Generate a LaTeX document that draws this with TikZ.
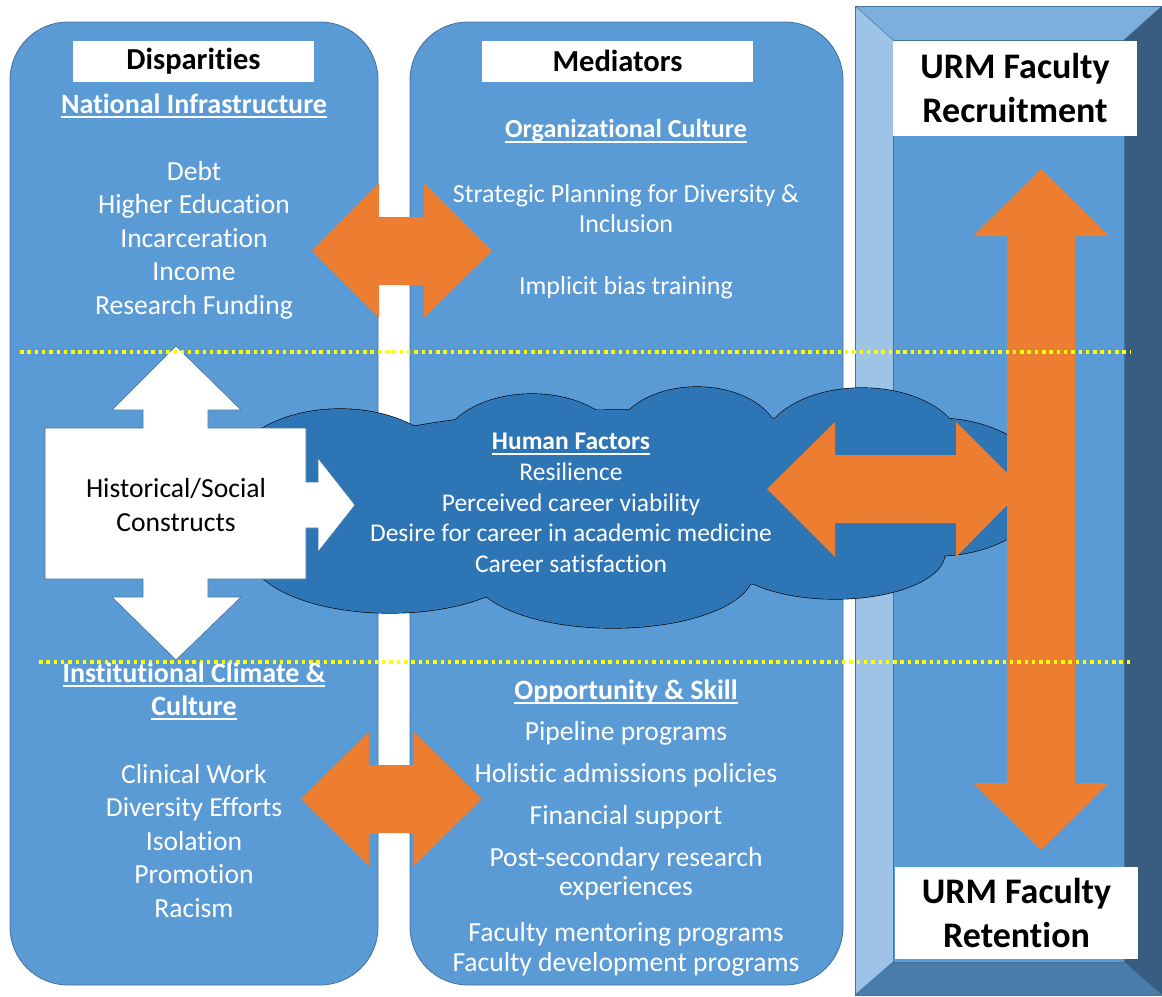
\documentclass[tikz,border=0pt]{standalone}
\usepackage{fontspec}
\setmainfont{Carlito}[Ligatures=NoCommon]
\usetikzlibrary{positioning}

\definecolor{panelblue}{HTML}{5B9BD5}
\definecolor{paneledge}{HTML}{41719C}
\definecolor{cloudblue}{HTML}{2E75B6}
\definecolor{arroworange}{HTML}{ED7D31}
\definecolor{bevtop}{HTML}{7DAFDD}
\definecolor{bevleft}{HTML}{9DC3E6}
\definecolor{bevright}{HTML}{385D80}
\definecolor{bevbottom}{HTML}{4A7CAB}
\definecolor{sepyellow}{HTML}{FFFF00}

% underlined heading with a heavier rule than \underline
\newcommand{\secline}[1]{\setbox0=\hbox{#1}\rlap{\vrule height -3pt depth 5pt width \wd0}\box0}

\tikzset{
  panel/.style={fill=panelblue, draw=paneledge, line width=0.8pt, rounded corners=58pt},
  bevel/.style={draw=paneledge, line width=0.5pt},
  bigarrow/.style={fill=arroworange},
  sepline/.style={draw=sepyellow, line width=3.5pt, dash pattern=on 3.5pt off 3.8pt},
  titlebox/.style={fill=white, inner sep=0pt, text=black, font=\fontsize{30.5}{34}\selectfont\bfseries},
  urmbox/.style={fill=white, inner sep=0pt, text=black, align=center, font=\fontsize{36}{44}\selectfont\bfseries},
  heading/.style={text=white, align=center, inner sep=0pt, font=\fontsize{28}{33}\selectfont\bfseries},
  listtext/.style={text=white, align=center, inner sep=0pt, font=\fontsize{27.6}{33.5}\selectfont},
  medtext/.style={text=white, align=center, inner sep=0pt, font=\fontsize{26}{30}\selectfont},
  cloudtext/.style={text=white, align=center, inner sep=0pt, font=\fontsize{25.5}{30.7}\selectfont},
  cloudline/.style={fill=cloudblue, draw=black, line width=1.2pt}
}

\begin{document}
\begin{tikzpicture}[x=1pt, y=-1pt]
  \useasboundingbox (0,0) rectangle (1162,996);
  \fill[white] (0,0) rectangle (1162,996);

  % the two rounded panels
  \draw[panel] (10,22) rectangle (378,985);
  \draw[panel] (410,22) rectangle (843,985);

  % bevelled frame on the right
  \fill[bevtop] (855,6) -- (1162,6) -- (1124,40) -- (893,40) -- cycle;
  \fill[bevleft] (855,6) -- (893,40) -- (893,962) -- (855,995) -- cycle;
  \fill[bevright] (1162,6) -- (1162,995) -- (1124,962) -- (1124,40) -- cycle;
  \fill[bevbottom] (855,995) -- (1162,995) -- (1124,962) -- (893,962) -- cycle;
  \fill[panelblue] (893,40) rectangle (1124,962);
  \draw[bevel] (855,6) rectangle (1162,995);
  \draw[bevel] (893,40) rectangle (1124,962);
  \draw[bevel] (855,6) -- (893,40) (1162,6) -- (1124,40)
               (855,995) -- (893,962) (1162,995) -- (1124,962);

  % cloud: outlined puffs, then filled again to hide inner edges
  \foreach \cx/\cy/\rx/\ry in {340/475/110/66, 390/553/140/60, 532/452/92/58,
      697/440/82/53, 862/448/100/60, 935/487/110/69, 613/573/140/55,
      835/553/110/46, 620/500/360/90}
    \draw[cloudline] (\cx,\cy) ellipse [x radius=\rx, y radius=\ry];
  \foreach \cx/\cy/\rx/\ry in {340/475/110/66, 390/553/140/60, 532/452/92/58,
      697/440/82/53, 862/448/100/60, 935/487/110/69, 613/573/140/55,
      835/553/110/46, 620/500/360/90}
    \fill[cloudblue] (\cx,\cy) ellipse [x radius=\rx, y radius=\ry];

  % white block arrow
  \draw[fill=white, draw=paneledge, line width=0.6pt]
    (176,346) -- (241,410) -- (208,410) -- (208,428) -- (306,428) -- (306,482)
    -- (318,482) -- (318,458) -- (355,505) -- (318,552) -- (318,528) -- (306,528)
    -- (306,579) -- (208,579) -- (208,597) -- (241,597) -- (176,660) -- (112,597)
    -- (143,597) -- (143,579) -- (45,579) -- (45,428) -- (143,428) -- (143,410)
    -- (112,410) -- cycle;

  % orange double arrows
  \fill[bigarrow] (312,251) -- (379,183) -- (379,217) -- (424,217) -- (424,183)
    -- (492,251) -- (424,318) -- (424,285) -- (379,285) -- (379,318) -- cycle;
  \fill[bigarrow] (301,799) -- (369,732) -- (369,765) -- (414,765) -- (414,732)
    -- (482,799) -- (414,866) -- (414,833) -- (369,833) -- (369,866) -- cycle;
  \fill[bigarrow] (767,489) -- (835,422) -- (835,455) -- (956,455) -- (956,422)
    -- (1023,489) -- (956,557) -- (956,523) -- (835,523) -- (835,557) -- cycle;
  \fill[bigarrow] (1041,169) -- (1109,236) -- (1075,236) -- (1075,783) -- (1109,783)
    -- (1041,850) -- (973,783) -- (1007,783) -- (1007,236) -- (973,236) -- cycle;

  % dotted separators
  \draw[sepline] (20,352) -- (1130,352);
  \draw[sepline] (39,662) -- (1130,662);

  % titles
  \node[titlebox, minimum width=241pt, minimum height=41pt] (dispTitle) at (193.5,61) {Disparities};
  \node[titlebox, minimum width=271pt, minimum height=41pt] (medTitle) at (617.5,61) {Mediators};
  \node[urmbox, minimum width=244pt, minimum height=95pt] (recruitBox) at (1015,88) {URM Faculty\\Recruitment};
  \node[urmbox, minimum width=243pt, minimum height=92pt] (retainBox) at (1016.5,912.5) {URM Faculty\\Retention};

  % disparities column
  \node[heading] (natHead) at (194,106) {\secline{National Infrastructure}};
  \node[listtext] (natList) at (194,240) {Debt\\Higher Education\\Incarceration\\Income\\Research Funding};
  \node[heading] (instHead) at (194,691.5) {\secline{Institutional Climate \&}\\\secline{Culture}};
  \node[listtext] (instList) at (194,841) {Clinical Work\\Diversity Efforts\\Isolation\\Promotion\\Racism};
  \node[listtext, text=black] (histText) at (176,505) {Historical/Social\\Constructs};

  % mediators column
  \node[heading, font=\fontsize{26}{31}\selectfont\bfseries] (orgHead) at (626,131) {\secline{Organizational Culture}};
  \node[medtext] (stratText) at (626,209) {Strategic Planning for Diversity \&\\Inclusion};
  \node[medtext] (biasText) at (626,288) {Implicit bias training};
  \node[cloudtext] (humanText) at (571,503) {\textbf{\secline{Human Factors}}\\Resilience\\Perceived career viability\\Desire for career in academic medicine\\Career satisfaction};
  \node[heading] (oppHead) at (626,692) {\secline{Opportunity \& Skill}};
  \node[listtext] (pipeText) at (626,733) {Pipeline programs};
  \node[listtext] (holText) at (626,775) {Holistic admissions policies};
  \node[listtext] (finText) at (626,817) {Financial support};
  \node[listtext, font=\fontsize{27.6}{29.5}\selectfont] (postText) at (626,873.5) {Post-secondary research\\experiences};
  \node[listtext, font=\fontsize{27.6}{30}\selectfont] (facText) at (626,949) {Faculty mentoring programs\\Faculty development programs};
\end{tikzpicture}
\end{document}
